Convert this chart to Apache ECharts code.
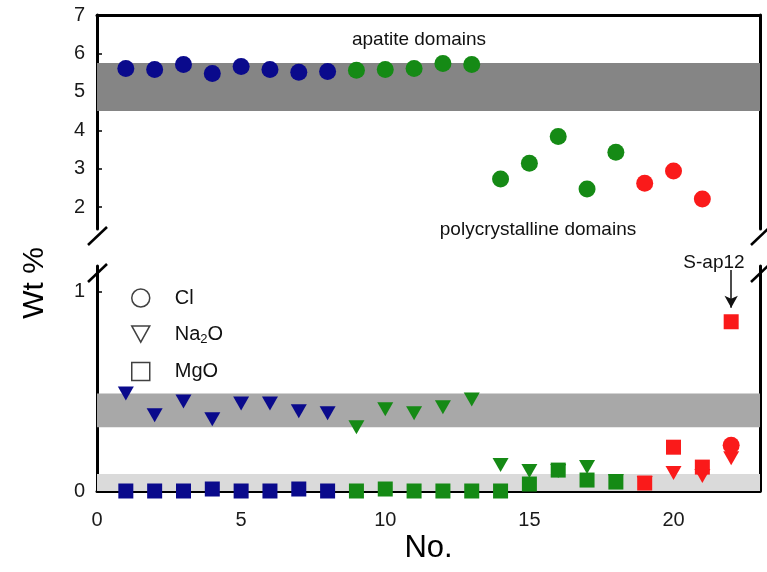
<!DOCTYPE html>
<html>
<head>
<meta charset="utf-8">
<script src="https://cdn.jsdelivr.net/npm/echarts@6/dist/echarts.min.js"></script>
<style>
    html, body { margin: 0; padding: 0; background: #fff; }
    #main { width: 767px; height: 572px; }
</style>
</head>
<body>
<div id="main"></div>
<script>
// analysis number along the traverse
var nos = [1, 2, 3, 4, 5, 6, 7, 8, 9, 10, 11, 12, 13, 14, 15, 16, 17, 18, 19, 20, 21, 22];
// b = blue, g = green, r = red group
var groups = ['b', 'b', 'b', 'b', 'b', 'b', 'b', 'b', 'g', 'g', 'g', 'g', 'g', 'g', 'g', 'g', 'g', 'g', 'r', 'r', 'r', 'r'];
var cl = [5.61, 5.58, 5.71, 5.48, 5.66, 5.58, 5.51, 5.53, 5.56, 5.58, 5.61, 5.74, 5.71, 2.73, 3.14, 3.84, 2.47, 3.43, 2.62, 2.94, 2.21, 0.23];
var na2o = [0.49, 0.38, 0.45, 0.36, 0.44, 0.44, 0.40, 0.39, 0.32, 0.41, 0.39, 0.42, 0.46, 0.13, 0.10, 0.10, 0.12, 0.05, 0.04, 0.09, 0.075, 0.165];
var mgo = [0, 0, 0, 0.01, 0, 0, 0.01, 0, 0, 0.01, 0, 0, 0, 0, 0.035, 0.105, 0.055, 0.045, 0.04, 0.22, 0.12, 0.85];

// grey bands (apatite domains)
var bandCl = [4.5, 5.75];
var bandNa2o = [0.32, 0.49];
var bandMgo = [0, 0.085];

var xTicks = [0, 5, 10, 15, 20];
var upperTicks = [2, 3, 4, 5, 6, 7];
var lowerTicks = [0, 1];
var upperRange = [1.43, 7];
var lowerRange = [0, 1.13];
var xRange = [0, 23];

var colors = { b: '#0a0a8c', g: '#158a15', r: '#fa1a1a' };
var font = 'Liberation Sans, Arial, sans-serif';

var G = { left: 97, right: 7, upTop: 15, upH: 214, lowTop: 266, lowH: 225 };

function pts(vals, keep) {
    var out = [];
    for (var i = 0; i < nos.length; i++) {
        if (keep(vals[i])) out.push({ value: [nos[i], vals[i]], itemStyle: { color: colors[groups[i]], opacity: 1 } });
    }
    return out;
}

function yAxisPair(grid, range, ticks) {
    var left = {
        gridIndex: grid, min: range[0], max: range[1],
        axisLine: { show: true, onZero: false, lineStyle: { color: '#000', width: 3 } },
        axisTick: { show: true, inside: true, length: 5, customValues: ticks, lineStyle: { color: '#000', width: 1.5 } },
        axisLabel: { customValues: ticks, fontSize: 20, fontFamily: font, color: '#1a1a1a', margin: 12 },
        splitLine: { show: false }
    };
    var right = {
        gridIndex: grid, position: 'right', min: range[0], max: range[1],
        axisLine: { show: true, onZero: false, lineStyle: { color: '#000', width: 3 } },
        axisTick: { show: false }, axisLabel: { show: false }, splitLine: { show: false }
    };
    return [left, right];
}

function breakMarks() {
    var xl = G.left, xr = 767 - G.right;
    var yUp = G.upTop + G.upH, yLow = G.lowTop;
    var ls = { stroke: '#000', lineWidth: 2.5 };
    var res = [];
    [xl, xr].forEach(function (x) {
        res.push({ type: 'line', shape: { x1: x - 9, y1: yUp + 16, x2: x + 10, y2: yUp - 2 }, style: ls });
        res.push({ type: 'line', shape: { x1: x - 9, y1: yLow + 16, x2: x + 10, y2: yLow - 2 }, style: ls });
    });
    return res;
}

var myChart = echarts.init(document.getElementById('main'));
var yAxes = yAxisPair(0, upperRange, upperTicks).concat(yAxisPair(1, lowerRange, lowerTicks));

var option = {
    animation: false,
    backgroundColor: '#fff',
    grid: [
        { left: G.left, right: G.right, top: G.upTop, height: G.upH },
        { left: G.left, right: G.right, top: G.lowTop, height: G.lowH }
    ],
    xAxis: [
        {
            gridIndex: 0, type: 'value', position: 'top', min: xRange[0], max: xRange[1],
            axisLine: { show: true, onZero: false, lineStyle: { color: '#000', width: 3 } },
            axisTick: { show: false }, axisLabel: { show: false }, splitLine: { show: false }
        },
        {
            gridIndex: 1, type: 'value', min: xRange[0], max: xRange[1],
            axisLine: { show: true, onZero: false, lineStyle: { color: '#000', width: 3 } },
            axisTick: { show: false },
            axisLabel: { customValues: xTicks, fontSize: 20, fontFamily: font, color: '#1a1a1a', margin: 19 },
            splitLine: { show: false },
            name: 'No.', nameLocation: 'middle', nameGap: 42,
            nameTextStyle: { fontSize: 31, fontFamily: font, color: '#000' }
        }
    ],
    yAxis: yAxes,
    legend: {
        orient: 'vertical', left: 126, top: 283,
        itemWidth: 18, itemHeight: 18, itemGap: 16,
        selectedMode: false,
        formatter: function (n) { return n === 'Na2O' ? 'Na{sub|2}O' : n; },
        textStyle: {
            fontSize: 20, fontFamily: font, color: '#111', padding: [0, 0, 0, 20],
            rich: { sub: { fontSize: 13, fontFamily: font, color: '#111', verticalAlign: 'bottom', padding: [10, 0, 0, 0] } }
        },
        data: [
            { name: 'Cl', icon: 'circle', itemStyle: { color: '#fff', borderColor: '#111', borderWidth: 1.5 } },
            { name: 'Na2O', icon: 'path://M0,0 L10,0 L5,9 Z', itemStyle: { color: '#fff', borderColor: '#111', borderWidth: 1.5 } },
            { name: 'MgO', icon: 'rect', itemStyle: { color: '#fff', borderColor: '#111', borderWidth: 1.5 } }
        ]
    },
    series: [
        {
            name: 'Cl', type: 'scatter', xAxisIndex: 0, yAxisIndex: 0, clip: false,
            symbol: 'circle', symbolSize: 17, z: 5,
            data: pts(cl, function (v) { return v > upperRange[0]; }),
            markArea: {
                silent: true, itemStyle: { color: '#858585' },
                data: [[{ yAxis: bandCl[0] }, { yAxis: bandCl[1] }]]
            }
        },
        {
            name: 'Cl', type: 'scatter', xAxisIndex: 1, yAxisIndex: 2, clip: false,
            symbol: 'circle', symbolSize: 17, z: 5,
            data: pts(cl, function (v) { return v <= lowerRange[1]; })
        },
        {
            name: 'Na2O', type: 'scatter', xAxisIndex: 1, yAxisIndex: 2, clip: false,
            symbol: 'triangle', symbolRotate: 180, symbolSize: [16, 14], z: 3,
            data: pts(na2o, function () { return true; })
        },
        {
            name: 'MgO', type: 'scatter', xAxisIndex: 1, yAxisIndex: 2, clip: false,
            symbol: 'rect', symbolSize: 15, z: 4,
            data: pts(mgo, function () { return true; }),
            markArea: {
                silent: true,
                data: [
                    [{ yAxis: bandNa2o[0], itemStyle: { color: '#a8a8a8' } }, { yAxis: bandNa2o[1] }],
                    [{ yAxis: bandMgo[0], itemStyle: { color: '#dadada' } }, { yAxis: bandMgo[1] }]
                ]
            },
            markLine: {
                silent: true, symbol: ['none', 'arrow'], symbolSize: [10, 12],
                lineStyle: { color: '#111', width: 1.5, type: 'solid' },
                label: { show: false },
                data: [[{ coord: [22, 1.11] }, { coord: [22, 0.92] }]]
            }
        }
    ],
    graphic: breakMarks().concat([
        {
            type: 'text', x: 35, y: 283, rotation: Math.PI / 2,
            style: { text: 'Wt %', font: '30px ' + font, fill: '#000', align: 'center', verticalAlign: 'middle' }
        },
        {
            type: 'text', x: 419, y: 40,
            style: { text: 'apatite domains', font: '19px ' + font, fill: '#111', align: 'center', verticalAlign: 'middle' }
        },
        {
            type: 'text', x: 538, y: 230,
            style: { text: 'polycrystalline domains', font: '19px ' + font, fill: '#111', align: 'center', verticalAlign: 'middle' }
        },
        {
            type: 'text', x: 714, y: 263,
            style: { text: 'S-ap12', font: '19px ' + font, fill: '#111', align: 'center', verticalAlign: 'middle' }
        }
    ])
};
myChart.setOption(option);
</script>
</body>
</html>
